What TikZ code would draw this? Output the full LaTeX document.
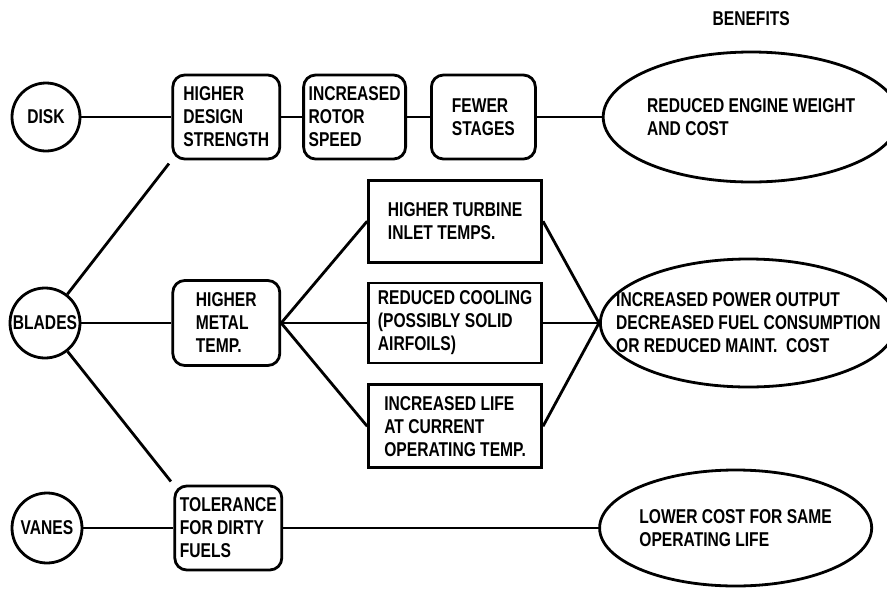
\documentclass[tikz,border=0pt]{standalone}
\usepackage{fontspec}
\setmainfont[FakeStretch=0.78]{Liberation Sans}
\usetikzlibrary{positioning,shapes.geometric}

\tikzset{
	every node/.style={font=\fontsize{20}{23}\selectfont\bfseries},
	part/.style={circle, draw, minimum size=70pt, inner sep=0pt},
	cause/.style={rectangle, draw, rounded corners=12pt, minimum width=107pt, minimum height=84pt, inner sep=2pt, align=left},
	effect/.style={rectangle, draw, minimum width=173pt, minimum height=81pt, inner sep=2pt, align=left},
	benefit/.style={ellipse, draw, minimum width=296pt, minimum height=130pt, inner sep=0pt, align=left},
}

\begin{document}
\begin{tikzpicture}[x=1pt, y=-1pt, line width=2.8pt]
	\useasboundingbox (0,0) rectangle (887,595);
	\node[part, minimum size=68pt] (disk) at (46,117) {DISK};
	\node[part] (blades) at (45,323) {BLADES};
	\node[part] (vanes) at (47,528) {VANES};
	\node[cause, right=90pt of disk] (strength) {HIGHER\\DESIGN\\STRENGTH};
	\node[cause, right=21pt of strength, minimum width=102pt] (rotor) {INCREASED\\ROTOR\\SPEED};
	\node[cause, right=23pt of rotor, minimum width=104pt] (stages) {FEWER\\STAGES};
	\node[benefit, right=65pt of stages] (weight) {REDUCED ENGINE WEIGHT\\AND COST};
	\node[above=20pt of weight] (benefits) {BENEFITS}; %column title
	\node[cause, right=90pt of blades, minimum height=85pt] (metal) {HIGHER\\METAL\\TEMP.};
	\node[effect, right=86pt of metal, minimum height=80pt] (cooling) {REDUCED COOLING\\(POSSIBLY SOLID\\AIRFOILS)};
	\node[effect, above=18pt of cooling, minimum height=82pt] (turbine) {HIGHER TURBINE\\INLET TEMPS.};
	\node[effect, below=19pt of cooling, minimum height=83pt] (life) {INCREASED LIFE\\AT CURRENT\\OPERATING TEMP.};
	\node[benefit, right=56pt of cooling, minimum height=128pt, inner xsep=-40pt] (power) {INCREASED POWER OUTPUT\\DECREASED FUEL CONSUMPTION\\OR REDUCED MAINT.\ \ COST}; %text runs past the rim
	\node[cause, right=90pt of vanes] (tolerance) {TOLERANCE\\FOR DIRTY\\FUELS};
	\node[benefit, right=315pt of tolerance, minimum width=266pt, minimum height=116pt] (lower) {LOWER COST FOR SAME\\OPERATING LIFE};

	\draw (disk) -- (strength) -- (rotor) -- (stages) -- (weight);
	\draw[shorten >=4pt] (blades) -- (strength.south west);
	\draw (blades) -- (metal);
	\draw[shorten >=4pt] (blades) -- (tolerance.north west);
	\foreach \n in {turbine,cooling,life}
		\draw (metal.east) -- (\n.west) (\n.east) -- (power.west);
	\draw (vanes) -- (tolerance) -- (lower);
\end{tikzpicture}
\end{document}
